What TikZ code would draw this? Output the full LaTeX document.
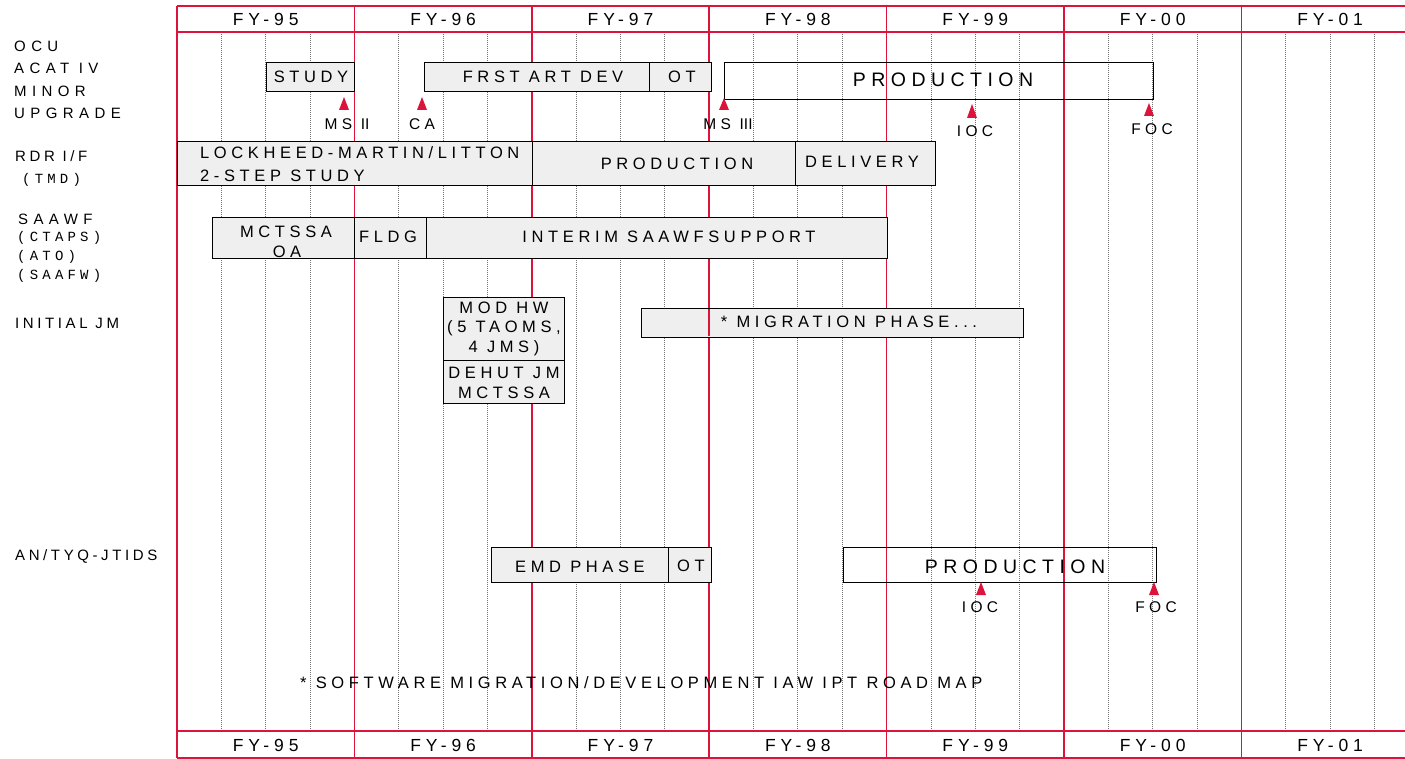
\documentclass[tikz,border=0pt]{standalone}
\usepackage{fontspec}
\setmainfont{Liberation Sans}
\newfontfamily\spf[LetterSpace=28]{Liberation Sans}
\newfontfamily\lspf[LetterSpace=36]{Liberation Sans}
\newfontfamily\nspf[LetterSpace=24]{Liberation Sans}
\newfontfamily\mspf[LetterSpace=30]{Liberation Mono}
\newfontfamily\plainf{Liberation Sans}
\definecolor{rd}{RGB}{220,20,60}
\definecolor{bx}{RGB}{239,239,239}
\begin{document}
\begin{tikzpicture}[x=1pt,y=-1pt,
  redline/.style={rd, line width=1.5pt},
  gridline/.style={black!55, line width=0.9pt, dash pattern=on 1pt off 1pt},
  gbox/.style={draw=black, fill=bx, line width=1.4pt, inner sep=0, anchor=north west},
  wbox/.style={draw=black, line width=1.4pt, inner sep=0, anchor=north west},
  fy/.style={font=\spf\fontsize{17.5}{20}\selectfont, inner sep=0},
  lbl/.style={font=\lspf\fontsize{15}{17}\selectfont, inner sep=0, anchor=west},
  nlbl/.style={font=\nspf\fontsize{15}{17}\selectfont, inner sep=0, anchor=west},
  mlbl/.style={font=\mspf\fontsize{14}{15}\selectfont, inner sep=0, anchor=west},
  btxt/.style={font=\spf\fontsize{16.5}{19.5}\selectfont, inner sep=0, align=center},
  bigtxt/.style={font=\spf\fontsize{19.5}{22}\selectfont, inner sep=0},
  msttxt/.style={font=\spf\fontsize{15.5}{18}\selectfont, inner sep=0},
  msmark/.style={fill=rd}
]
\useasboundingbox (0,0) rectangle (1405,759);
% grid
\foreach \k in {0,...,6}{
  \foreach \q in {1,2,3}{
    \draw[gridline] ({177+177.4*\k+44.35*\q},32) -- ({177+177.4*\k+44.35*\q},731);
  }
}
\foreach \k in {0,...,6}{
  \draw[redline] ({177+177.4*\k},6) -- ({177+177.4*\k},758);
}
\draw[redline] (177,6) -- (1405,6);
\draw[redline] (177,32) -- (1405,32);
\draw[redline] (177,731) -- (1405,731);
\draw[redline] (177,758) -- (1405,758);
\foreach \k/\t in {0/95,1/96,2/97,3/98,4/99,5/00,6/01}{
  \node[fy] (fyt\k) at ({177+177.4*\k+88.7},19) {FY-\t};
  \node[fy] (fyb\k) at ({177+177.4*\k+88.7},745) {FY-\t};
}
% row labels
\node[lbl] (l1) at (14,46) {OCU};
\node[lbl] (l2) at (14,68) {ACAT IV};
\node[lbl] (l3) at (14,91) {MINOR};
\node[lbl] (l4) at (14,113) {UPGRADE};
\node[nlbl] (l5) at (15,156) {RDR I/F};
\node[mlbl] (l6) at (22,180) {(TMD)};
\node[lbl] (l7) at (18,219) {SAAWF};
\node[mlbl] (l8) at (17,238) {(CTAPS)};
\node[mlbl] (l9) at (17,257) {(ATO)};
\node[mlbl] (l10) at (17,276) {(SAAFW)};
\node[nlbl] (l11) at (15,323) {INITIAL JM};
\node[nlbl] (l12) at (15,556) {AN/TYQ-JTIDS};
% boxes
\node[gbox, minimum width=88pt, minimum height=29pt] (bstudy) at (266,62) {};
\node[gbox, minimum width=225pt, minimum height=29pt] (bfrst) at (424,62) {};
\node[gbox, minimum width=62pt, minimum height=29pt] (bota) at (649,62) {};
\node[wbox, minimum width=429pt, minimum height=37pt] (bproda) at (724,62) {};
\node[gbox, minimum width=355pt, minimum height=44pt] (block) at (177,141) {};
\node[gbox, minimum width=263pt, minimum height=44pt] (bprodb) at (532,141) {};
\node[gbox, minimum width=140pt, minimum height=44pt] (bdeliv) at (795,141) {};
\node[gbox, minimum width=142pt, minimum height=41pt] (bmct) at (212,217) {};
\node[gbox, minimum width=72pt, minimum height=41pt] (bfldg) at (354,217) {};
\node[gbox, minimum width=461pt, minimum height=41pt] (binterim) at (426,217) {};
\node[gbox, minimum width=121pt, minimum height=63pt] (bmod) at (443,297) {};
\node[gbox, minimum width=121pt, minimum height=43pt] (bdehut) at (443,360) {};
\node[gbox, minimum width=382pt, minimum height=29pt] (bmig) at (641,308) {};
\draw[redline] (709.2,309) -- (709.2,336);
\node[gbox, minimum width=177pt, minimum height=35pt] (bemd) at (491,547) {};
\node[gbox, minimum width=43pt, minimum height=35pt] (botb) at (668,547) {};
\node[wbox, minimum width=313pt, minimum height=35pt] (bprodc) at (843,547) {};
% milestone markers
\fill[msmark] (339,110) -- (349,110) -- (344,97) -- cycle;
\fill[msmark] (417,110) -- (427,110) -- (422,97) -- cycle;
\fill[msmark] (719,110) -- (729,110) -- (724,98) -- cycle;
\fill[msmark] (967,118) -- (977,118) -- (972,104) -- cycle;
\fill[msmark] (1144,116) -- (1154,116) -- (1149,103) -- cycle;
\fill[msmark] (976,595) -- (986,595) -- (981,582) -- cycle;
\fill[msmark] (1149,595) -- (1159,595) -- (1154,582) -- cycle;
% texts
\node[btxt] (tstudy) at (311,77) {STUDY};
\node[btxt] (tfrst) at (543,77) {FRST ART DEV};
\node[btxt] (tota) at (682,77) {OT};
\node[bigtxt] (tproda) at (943,80) {PRODUCTION};
\node[msttxt] (tms2) at (347,124) {MS\ {\plainf II}};
\node[msttxt] (tca) at (422,124) {CA};
\node[msttxt] (tms3) at (728,124) {MS\ {\plainf III}};
\node[msttxt] (tioca) at (975,131) {IOC};
\node[msttxt] (tfoca) at (1152,129) {FOC};
\node[btxt, anchor=west] (tlock) at (200,153) {LOCKHEED-MARTIN/LITTON};
\node[btxt, anchor=west] (tstep) at (200,176) {2-STEP STUDY};
\node[btxt] (tprodb) at (677,164) {PRODUCTION};
\node[btxt] (tdeliv) at (862,162) {DELIVERY};
\node[btxt] (tmct) at (286,232) {MCTSSA};
\node[btxt] (toa) at (287,252) {OA};
\node[btxt] (tfldg) at (388,237) {FLDG};
\node[btxt] (tinterim) at (669,237) {INTERIM SAAWFSUPPORT};
\node[btxt] (tmod) at (504,328.5) {MOD HW\\(5 TAOMS,\\4 JMS)};
\node[btxt] (tdehut) at (504,383) {DEHUT JM\\MCTSSA};
\node[btxt] (tmig) at (849,322) {* MIGRATION PHASE...};
\node[btxt] (temd) at (580,567) {EMD PHASE};
\node[btxt] (totb) at (691,566) {OT};
\node[bigtxt] (tprodc) at (1015,567) {PRODUCTION};
\node[msttxt] (tiocb) at (980,607) {IOC};
\node[msttxt] (tfocb) at (1156,607) {FOC};
\node[btxt, anchor=west] (tnote) at (300,683) {* SOFTWARE MIGRATION/DEVELOPMENT IAW IPT ROAD MAP};
\end{tikzpicture}
\end{document}
